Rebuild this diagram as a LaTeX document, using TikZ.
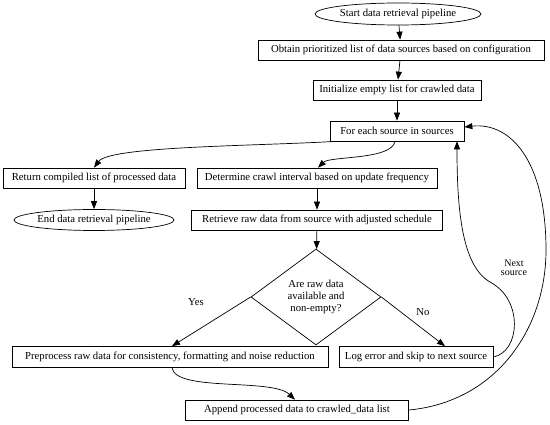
\documentclass[tikz,border=0pt]{standalone}
\usepackage{fontspec}
\setmainfont{Liberation Serif}
\usetikzlibrary{shapes.geometric,arrows.meta}
\begin{document}
\begin{tikzpicture}[x=1pt,y=-1pt,font=\fontsize{10.7}{12}\selectfont,
  box/.style={draw,rectangle,inner sep=1pt,minimum height=20pt,line width=0.7pt},
  term/.style={draw,ellipse,inner sep=0pt,minimum height=22pt,line width=0.7pt},
  dec/.style={draw,diamond,inner sep=0pt,align=center,line width=0.7pt,minimum width=130pt,minimum height=96pt},
  arr/.style={-{Triangle[length=8pt,width=6pt]},line width=0.7pt},
  lbl/.style={font=\fontsize{10.7}{12}\selectfont}]
\useasboundingbox (0,0) rectangle (550,425);
\node[term,minimum width=166pt] (start) at (398,14) {Start data retrieval pipeline};
\node[box,minimum width=286pt] (obtain) at (401,50) {Obtain prioritized list of data sources based on configuration};
\node[box,minimum width=168pt] (init) at (397,90) {Initialize empty list for crawled data};
\node[box,minimum width=134pt] (foreach) at (397,131) {For each source in sources};
\node[box,minimum width=182pt] (ret) at (94,178) {Return compiled list of processed data};
\node[term,minimum width=143pt,minimum height=21pt] (end) at (94,220) {End data retrieval pipeline};
\node[box,minimum width=240pt] (det) at (317,178) {Determine crawl interval based on update frequency};
\node[box,minimum width=251pt] (retr) at (317,220) {Retrieve raw data from source with adjusted schedule};
\node[dec] (dia) at (316,297) {Are raw data\\available and\\non-empty?};
\node[box,minimum width=316pt,minimum height=21pt] (pre) at (170,357) {Preprocess raw data for consistency, formatting and noise reduction};
\node[box,minimum width=154pt,minimum height=21pt] (log) at (416,357) {Log error and skip to next source};
\node[box,minimum width=223pt] (app) at (297,410) {Append processed data to crawled\_data list};
\node[lbl] (yes) at (196,302) {Yes};
\node[lbl] (no) at (423,312) {No};
\node[lbl,align=center,font=\fontsize{10}{9.5}\selectfont] (next) at (514,268) {Next\\source};

\draw[arr] (start) -- (obtain);
\draw[arr] (obtain) -- (init);
\draw[arr] (init) -- (foreach);
\draw[arr] ([xshift=6pt]foreach.south west) .. controls (260,146) and (110,146) .. (ret.north);
\draw[arr] ([xshift=-2pt]foreach.south) .. controls (392,160) and (330,156) .. ([xshift=1pt]det.north);
\draw[arr] (ret) -- (end);
\draw[arr] (det) -- (retr);
\draw[arr] (retr) -- (dia);
\draw[arr] (dia.west) -- ([xshift=2pt]pre.north);
\draw[arr] (dia.east) -- ([xshift=29pt]log.north);
\draw[arr] ([xshift=2pt]pre.south) .. controls (176,392) and (272,378) .. ([xshift=-2pt]app.north);
\draw[arr] (log.east) .. controls (520,352) and (524,300) .. (490,282) .. controls (462,266) and (457,210) .. ([xshift=60pt]foreach.south);
\draw[arr] (app.east) .. controls (495,402) and (546,330) .. (546,250) .. controls (546,160) and (510,122) .. ([yshift=4pt]foreach.east);
\end{tikzpicture}
\end{document}
